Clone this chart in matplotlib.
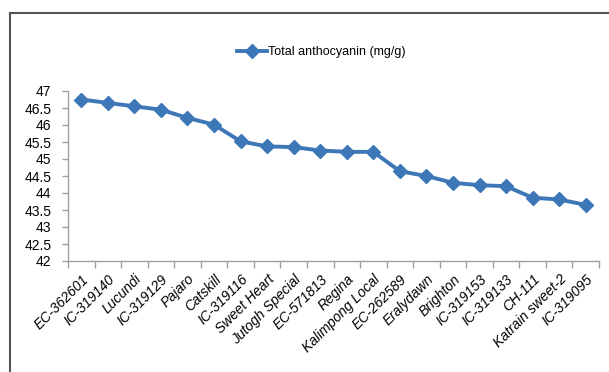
import matplotlib
matplotlib.use("Agg")
import matplotlib.pyplot as plt
from matplotlib.lines import Line2D

categories = ["EC-362601", "IC-319140", "Lucundi", "IC-319129", "Pajaro", "Catskill",
              "IC-319116", "Sweet Heart", "Jutogh Special", "EC-571813", "Regina",
              "Kalimpong Local", "EC-262589", "Eralydawn", "Brighton", "IC-319153",
              "IC-319133", "CH-111", "Katrain sweet-2", "IC-319095"]
values = [46.75, 46.65, 46.55, 46.45, 46.21, 46.01, 45.52, 45.37, 45.35, 45.25, 45.21,
          45.21, 44.64, 44.50, 44.30, 44.23, 44.20, 43.86, 43.81, 43.65]
yticks = [42, 42.5, 43, 43.5, 44, 44.5, 45, 45.5, 46, 46.5, 47]
ytick_labels = ["42", "42.5", "43", "43.5", "44", "44.5", "45", "45.5", "46", "46.5", "47"]
series_name = "Total anthocyanin (mg/g)"

plt.rcParams['font.family'] = ['Liberation Sans', 'DejaVu Sans']

W, H = 609, 372
fig = plt.figure(figsize=(W / 100, H / 100), dpi=100)
ax = fig.add_axes([68 / W, 1 - 261 / H, (599 - 68) / W, (261 - 91) / H])

color = "#3d77b8"
x = list(range(len(categories)))
ax.plot(x, values, color=color, lw=2.8, marker="D", markersize=7.5,
        markerfacecolor=color, markeredgecolor=color, zorder=3)

ax.set_xlim(-0.5, len(categories) - 0.5)
ax.set_ylim(42, 47)
ax.set_yticks(yticks)
ax.set_yticklabels(ytick_labels, fontsize=10)

ax.set_xticks(x)
ax.set_xticklabels(categories, rotation=45, ha="right", rotation_mode="anchor",
                   fontsize=10, style="italic")
ax.tick_params(axis="x", length=0, pad=8)
ax.set_xticks([i - 0.5 for i in range(len(categories) + 1)], minor=True)
ax.tick_params(axis="x", which="minor", length=5, color="#a0a0a0", width=1)
ax.tick_params(axis="y", length=4, color="#a0a0a0", width=1, pad=8)

for s in ["top", "right"]:
    ax.spines[s].set_visible(False)
for s in ["left", "bottom"]:
    ax.spines[s].set_color("#a0a0a0")
    ax.spines[s].set_linewidth(1)

handle = Line2D([], [], color=color, lw=2.8, marker="D", markersize=7.5)
fig.legend([handle], [series_name], loc="center", bbox_to_anchor=(321 / W, 1 - 52 / H),
           frameon=False, fontsize=9, handlelength=2.4, handletextpad=0.1)

# outer frame (top and left lines)
fig.add_artist(Line2D([10 / W, 1], [1 - 13 / H, 1 - 13 / H], color="#555555", lw=1.5,
                      transform=fig.transFigure))
fig.add_artist(Line2D([10 / W, 10 / W], [1 - 13 / H, 0], color="#555555", lw=1.5,
                      transform=fig.transFigure))

fig.savefig("out.png", dpi=100, facecolor="white")
